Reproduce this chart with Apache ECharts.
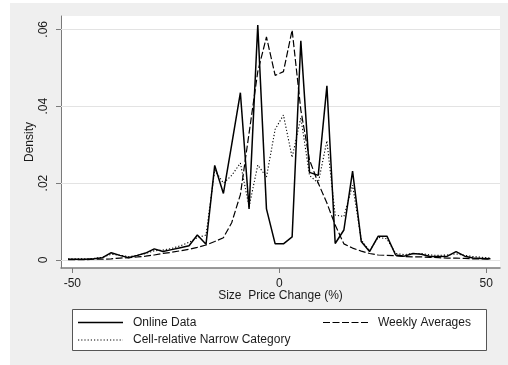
<!DOCTYPE html>
<html>
<head>
<meta charset="utf-8">
<style>
  html, body { margin: 0; padding: 0; background: #ffffff; }
  #chart { width: 508px; height: 365px; }
</style>
<script src="https://cdn.jsdelivr.net/npm/echarts@6/dist/echarts.min.js"></script>
</head>
<body>
<div id="chart"></div>
<script>
// Bin centres of the price-change histogram polygons (%)
const binCenters = [
  -51.0, -48.9, -46.8, -44.8, -42.7, -40.6, -38.5, -36.4, -34.3, -32.3,
  -30.2, -28.1, -26.0, -23.9, -21.8, -19.8, -17.7, -15.6, -13.5, -11.5,
  -9.4, -7.3, -5.2, -3.1, -1.0, 1.0, 3.1, 5.2, 7.3, 9.4,
  11.5, 13.5, 15.6, 17.7, 19.8, 21.8, 23.9, 26.0, 28.1, 30.2,
  32.3, 34.3, 36.4, 38.5, 40.6, 42.7, 44.8, 46.8, 48.9, 51.0
];

// Density of price changes, online data
const onlineData = [
  0.0002, 0.0002, 0.0002, 0.0003, 0.0006, 0.0019, 0.0012, 0.0006, 0.0012, 0.0018,
  0.0029, 0.0022, 0.0027, 0.0032, 0.0037, 0.0065, 0.0041, 0.0246, 0.0173, 0.0300,
  0.0435, 0.0133, 0.0611, 0.0133, 0.0042, 0.0042, 0.0060, 0.0570, 0.0228, 0.0220,
  0.0453, 0.0043, 0.0078, 0.0231, 0.0048, 0.0022, 0.0062, 0.0062, 0.0013, 0.0010,
  0.0017, 0.0015, 0.0009, 0.0009, 0.0010, 0.0022, 0.0010, 0.0005, 0.0004, 0.0003
];

// Density of price changes, weekly averaged prices
const weeklyAverages = [
  0.0001, 0.0001, 0.0001, 0.0002, 0.0002, 0.0003, 0.0005, 0.0006, 0.0008, 0.0010,
  0.0013, 0.0017, 0.0020, 0.0024, 0.0028, 0.0033, 0.0039, 0.0048, 0.0058, 0.0097,
  0.0170, 0.0330, 0.0490, 0.0580, 0.0480, 0.0490, 0.0598, 0.0390, 0.0260, 0.0200,
  0.0148, 0.0091, 0.0042, 0.0031, 0.0023, 0.0017, 0.0013, 0.0012, 0.0011, 0.0009,
  0.0008, 0.0008, 0.0007, 0.0006, 0.0005, 0.0005, 0.0004, 0.0003, 0.0003, 0.0002
];

// Density of price changes, cell-relative narrow category
const cellRelative = [
  0.0003, 0.0003, 0.0003, 0.0004, 0.0007, 0.0015, 0.0012, 0.0009, 0.0012, 0.0017,
  0.0024, 0.0026, 0.0030, 0.0037, 0.0046, 0.0058, 0.0065, 0.0234, 0.0200, 0.0220,
  0.0252, 0.0138, 0.0247, 0.0216, 0.0340, 0.0377, 0.0267, 0.0370, 0.0220, 0.0200,
  0.0310, 0.0117, 0.0113, 0.0195, 0.0052, 0.0024, 0.0059, 0.0055, 0.0017, 0.0014,
  0.0017, 0.0017, 0.0013, 0.0012, 0.0013, 0.0016, 0.0012, 0.0009, 0.0007, 0.0005
];

const xTicks = [-50, 0, 50];
const yTicks = [0, 0.02, 0.04, 0.06];

const seriesNames = ['Online Data', 'Weekly Averages', 'Cell-relative Narrow Category'];

// Shared line styles, used by the series and their legend keys
const STYLES = [
  { width: 1.5, dash: null },
  { width: 1.2, dash: [7, 2.5] },
  { width: 1.1, dash: [1.2, 2] }
];

function pairs(ys) {
  return binCenters.map((x, i) => [x, ys[i]]);
}

const FONT = '"Liberation Sans", Arial, sans-serif';
const AXIS_COLOR = '#7a7a7a';
const TEXT_COLOR = '#1a1a1a';

// Legend box: two columns, key line followed by its label
const legendKeys = [
  { name: seriesNames[0], style: STYLES[0], x: 78, y: 322.5 },
  { name: seriesNames[1], style: STYLES[1], x: 323, y: 322.5 },
  { name: seriesNames[2], style: STYLES[2], x: 78, y: 340 }
];

const legendGraphics = [
  {
    type: 'rect', z: 10, silent: true,
    shape: { x: 72.5, y: 309.5, width: 414, height: 41 },
    style: { fill: '#ffffff', stroke: '#555555', lineWidth: 1 }
  }
];
legendKeys.forEach(k => {
  legendGraphics.push({
    type: 'line', z: 11, silent: true,
    shape: { x1: k.x, y1: k.y, x2: k.x + 45, y2: k.y },
    style: { stroke: '#000000', lineWidth: k.style.width, lineDash: k.style.dash }
  });
  legendGraphics.push({
    type: 'text', z: 11, silent: true,
    x: k.x + 55, y: k.y,
    style: {
      text: k.name, fill: TEXT_COLOR, font: '12px ' + FONT,
      verticalAlign: 'middle', align: 'left'
    }
  });
});

const chart = echarts.init(document.getElementById('chart'), null, { renderer: 'canvas' });

chart.setOption({
  animation: false,
  backgroundColor: '#ffffff',
  textStyle: { fontFamily: FONT },
  graphic: [
    {
      type: 'rect', z: -10, silent: true,
      shape: { x: 10, y: 3, width: 498, height: 362 },
      style: { fill: '#efefef' }
    }
  ].concat(legendGraphics),
  grid: {
    left: 61, right: 8, top: 16, bottom: 97,
    show: true, backgroundColor: '#ffffff', borderWidth: 0
  },
  xAxis: {
    type: 'value',
    min: -52.73, max: 53.31,
    name: 'Size  Price Change (%)',
    nameLocation: 'middle',
    nameGap: 22,
    nameMoveOverlap: false,
    nameTextStyle: { fontFamily: FONT, fontSize: 12, color: TEXT_COLOR, verticalAlign: 'top' },
    axisLine: { show: true, onZero: false, lineStyle: { color: AXIS_COLOR, width: 1.5 } },
    axisTick: { show: true, length: 5, customValues: xTicks, lineStyle: { color: AXIS_COLOR, width: 1 } },
    axisLabel: { customValues: xTicks, margin: 10, fontFamily: FONT, fontSize: 12, color: TEXT_COLOR },
    splitLine: { show: false }
  },
  yAxis: {
    type: 'value',
    min: -0.00208, max: 0.06346,
    name: 'Density',
    nameLocation: 'middle',
    nameGap: 25,
    nameMoveOverlap: false,
    nameRotate: 90,
    nameTextStyle: { fontFamily: FONT, fontSize: 12, color: TEXT_COLOR },
    axisLine: { show: true, onZero: false, lineStyle: { color: AXIS_COLOR, width: 1 } },
    axisTick: { show: true, length: 5, customValues: yTicks, lineStyle: { color: AXIS_COLOR, width: 1 } },
    axisLabel: {
      customValues: yTicks,
      rotate: 90,
      margin: 11,
      fontFamily: FONT, fontSize: 12, color: TEXT_COLOR,
      formatter: v => (v === 0 ? '0' : String(+v.toFixed(2)).replace(/^0\./, '.'))
    },
    splitLine: { show: false }
  },
  series: [
    {
      name: seriesNames[0],
      type: 'line',
      data: pairs(onlineData),
      symbol: 'none',
      z: 4,
      lineStyle: { color: '#000000', width: STYLES[0].width, type: 'solid' },
      markLine: {
        silent: true,
        symbol: 'none',
        z: 1,
        label: { show: false },
        lineStyle: { color: '#e3e3e3', width: 1, type: 'solid' },
        data: yTicks.map(v => ({ yAxis: v }))
      }
    },
    {
      name: seriesNames[1],
      type: 'line',
      data: pairs(weeklyAverages),
      symbol: 'none',
      z: 4,
      lineStyle: { color: '#000000', width: STYLES[1].width, type: STYLES[1].dash }
    },
    {
      name: seriesNames[2],
      type: 'line',
      data: pairs(cellRelative),
      symbol: 'none',
      z: 4,
      lineStyle: { color: '#000000', width: STYLES[2].width, type: STYLES[2].dash }
    }
  ]
});
</script>
</body>
</html>
